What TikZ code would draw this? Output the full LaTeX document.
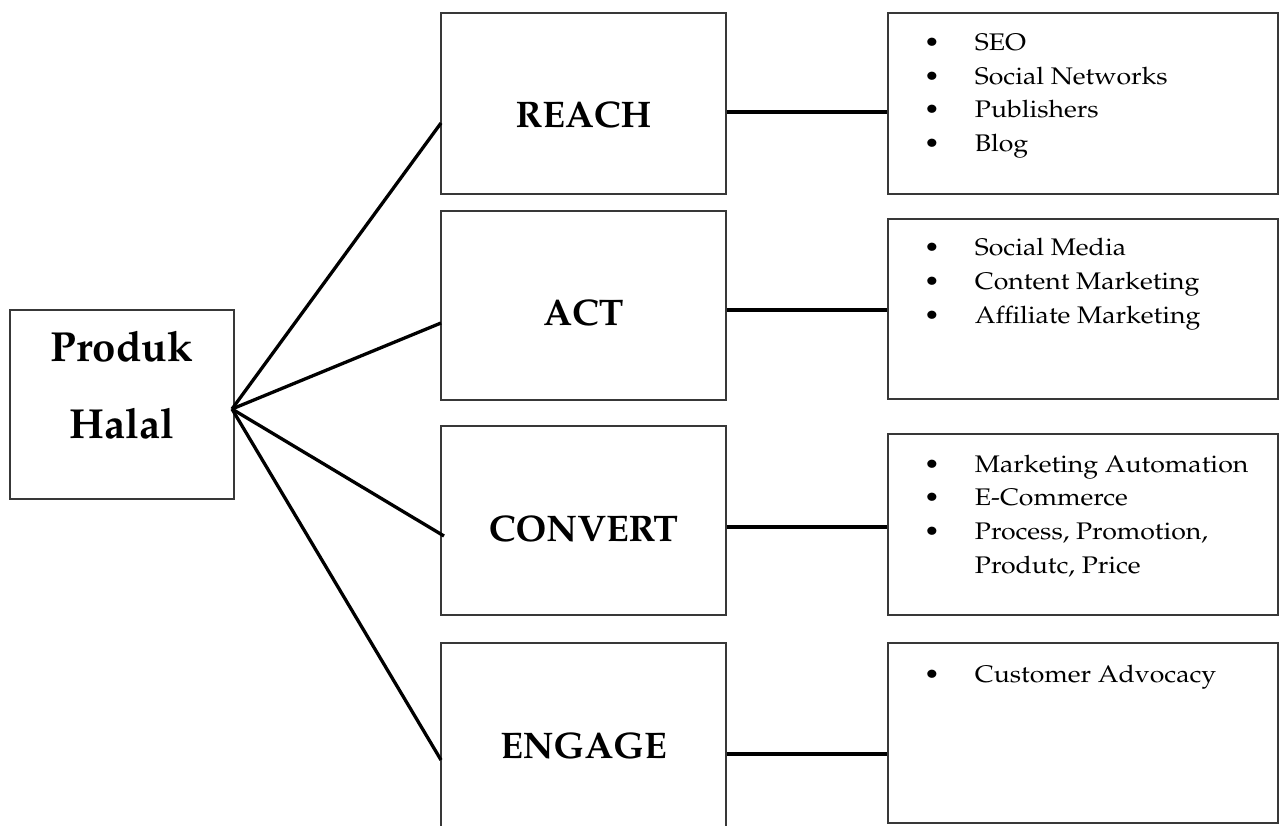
\documentclass[tikz,border=0pt]{standalone}
\usepackage[T1]{fontenc}
\renewcommand{\rmdefault}{ppl}
\usepackage{array}
\usepackage{graphicx}
\begin{document}
\begin{tikzpicture}[x=1pt,y=-1pt,
  box/.style={draw=black!78,line width=1.5pt,fill=white,inner sep=0pt},
  link/.style={line width=3.3pt,black},
  head/.style={font=\fontsize{37}{40}\selectfont\bfseries,anchor=base,inner sep=0pt},
  items/.style={font=\fontsize{24}{33.7}\selectfont,anchor=base west,inner sep=0pt}]
\clip (0,0) rectangle (1283,826);
\fill[white] (0,0) rectangle (1283,826);

% centre box
\node[box,minimum width=224pt,minimum height=189pt] (prod) at (122,404.5) {};
\node[font=\fontsize{42}{76}\selectfont\bfseries,anchor=base,inner sep=0pt] (prodtop) at (122,362) {Produk};
\node[font=\fontsize{42}{76}\selectfont\bfseries,anchor=base,inner sep=0pt] (prodbot) at (122,438) {Halal};

% stage boxes
\node[box,minimum width=285pt,minimum height=181pt] (reach) at (583.5,103.5) {};
\node[box,minimum width=285pt,minimum height=189pt] (act) at (583.5,305.5) {};
\node[box,minimum width=285pt,minimum height=189pt] (convert) at (583.5,520.5) {};
\node[box,minimum width=285pt,minimum height=200pt] (engage) at (583.5,743) {};

\node[head] (reachtxt) at (583.5,128) {REACH};
\node[head] (acttxt) at (583.5,326) {ACT};
\node[head] (converttxt) at (583.5,541) {CONVERT};
\node[head] (engagetxt) at (583.5,758) {ENGAGE};

% channel boxes
\node[box,minimum width=390pt,minimum height=181pt] (r1) at (1083,103.5) {};
\node[box,minimum width=390pt,minimum height=180pt] (r2) at (1083,309) {};
\node[box,minimum width=390pt,minimum height=181pt] (r3) at (1083,524.5) {};
\node[box,minimum width=390pt,minimum height=180pt] (r4) at (1083,733) {};

% bullet lists, set slightly wide
\newcommand{\bul}{\makebox[14pt]{\textbullet}}
\newcommand{\blist}[1]{\scalebox{1.11}[1]{\begin{tabular}[t]{@{}l@{\hspace{31.7pt}}l@{}}#1\end{tabular}}}
\node[items] (l1) at (924,50.5) {\blist{\bul & SEO\\ \bul & Social Networks\\ \bul & Publishers\\ \bul & Blog}};
\node[items] (l2) at (924,256) {\blist{\bul & Social Media\\ \bul & Content Marketing\\ \bul & Affiliate Marketing}};
\node[items] (l3) at (924,472) {\blist{\bul & Marketing Automation\\ \bul & E-Commerce\\ \bul & Process, Promotion,\\ & Produtc, Price}};
\node[items] (l4) at (924,682) {\blist{\bul & Customer Advocacy}};

% fan of connectors from the centre box
\coordinate (hub) at (232,409);
\coordinate (inR) at (441,123);
\coordinate (inA) at (441,323);
\coordinate (inC) at (444,536);
\coordinate (inE) at (441,760);
\draw[link] (hub) -- (inR);
\draw[link] (hub) -- (inA);
\draw[link] (hub) -- (inC);
\draw[link] (hub) -- (inE);

% stage to channel connectors
\draw[link] (reach.east |- 0,112) -- (r1.west |- 0,112);
\draw[link] (act.east |- 0,310) -- (r2.west |- 0,310);
\draw[link] (convert.east |- 0,527) -- (r3.west |- 0,527);
\draw[link] (engage.east |- 0,754) -- (r4.west |- 0,754);
\end{tikzpicture}
\end{document}
